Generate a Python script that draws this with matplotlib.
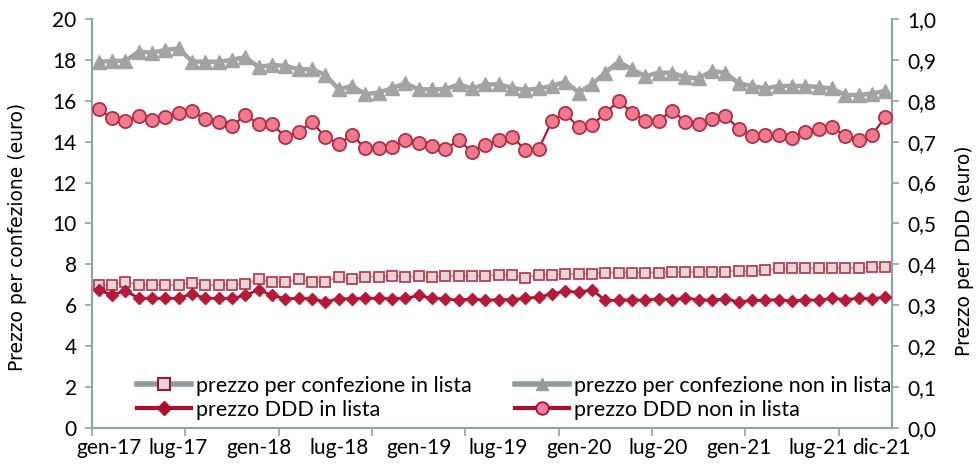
import matplotlib
matplotlib.use("Agg")
import matplotlib.pyplot as plt
from matplotlib.lines import Line2D
from matplotlib.ticker import FixedLocator
import numpy as np

# ---- data (60 months gen-17 .. dic-21) ----
conf_non_lista = [17.9, 17.95, 17.95, 18.4, 18.35, 18.48, 18.56, 17.91, 17.91, 17.9,
                  18.0, 18.13, 17.64, 17.75, 17.7, 17.54, 17.54, 17.26, 16.56, 16.72,
                  16.32, 16.4, 16.61, 16.85, 16.56, 16.56, 16.56, 16.8, 16.6, 16.8,
                  16.8, 16.64, 16.52, 16.6, 16.72, 16.93, 16.4, 16.8, 17.37, 17.91,
                  17.54, 17.2, 17.37, 17.37, 17.15, 17.1, 17.45, 17.37, 16.85, 16.72,
                  16.6, 16.72, 16.72, 16.72, 16.67, 16.6, 16.28, 16.28, 16.35, 16.48]
conf_lista = [7.0, 7.0, 7.15, 7.0, 7.0, 7.0, 7.0, 7.1, 7.0, 7.0,
              7.0, 7.05, 7.27, 7.15, 7.15, 7.27, 7.15, 7.15, 7.4, 7.27,
              7.4, 7.4, 7.42, 7.4, 7.42, 7.4, 7.42, 7.44, 7.44, 7.45,
              7.47, 7.48, 7.35, 7.5, 7.5, 7.52, 7.55, 7.55, 7.6, 7.6,
              7.6, 7.6, 7.6, 7.62, 7.62, 7.65, 7.65, 7.65, 7.68, 7.68,
              7.7, 7.8, 7.8, 7.8, 7.8, 7.8, 7.82, 7.82, 7.85, 7.85]
ddd_non_lista = [0.779, 0.757, 0.750, 0.762, 0.752, 0.760, 0.771, 0.775, 0.755, 0.749,
                 0.738, 0.765, 0.743, 0.743, 0.712, 0.724, 0.747, 0.712, 0.694, 0.716,
                 0.684, 0.684, 0.688, 0.703, 0.696, 0.689, 0.681, 0.704, 0.675, 0.692,
                 0.704, 0.712, 0.680, 0.681, 0.751, 0.769, 0.735, 0.741, 0.769, 0.800,
                 0.771, 0.751, 0.751, 0.776, 0.749, 0.743, 0.755, 0.763, 0.732, 0.714,
                 0.716, 0.716, 0.710, 0.724, 0.730, 0.736, 0.714, 0.704, 0.716, 0.760]
ddd_lista = [0.338, 0.325, 0.336, 0.317, 0.317, 0.317, 0.317, 0.328, 0.317, 0.317,
             0.317, 0.324, 0.338, 0.324, 0.316, 0.317, 0.316, 0.308, 0.316, 0.316,
             0.317, 0.317, 0.316, 0.317, 0.324, 0.317, 0.316, 0.312, 0.316, 0.312,
             0.314, 0.314, 0.317, 0.320, 0.328, 0.334, 0.332, 0.338, 0.312, 0.312,
             0.314, 0.312, 0.316, 0.314, 0.317, 0.314, 0.312, 0.316, 0.308, 0.312,
             0.312, 0.314, 0.310, 0.314, 0.312, 0.317, 0.314, 0.317, 0.316, 0.320]

x_labels = ["gen-17", "lug-17", "gen-18", "lug-18", "gen-19", "lug-19",
            "gen-20", "lug-20", "gen-21", "lug-21", "dic-21"]
x_label_months = [0.8, 6, 12, 18, 24, 30, 36, 42, 48, 54, 58.7]

left_ticks = [0, 2, 4, 6, 8, 10, 12, 14, 16, 18, 20]
right_ticks = [0.0, 0.1, 0.2, 0.3, 0.4, 0.5, 0.6, 0.7, 0.8, 0.9, 1.0]

legend_labels = ["prezzo per confezione in lista", "prezzo DDD in lista",
                 "prezzo per confezione non in lista", "prezzo DDD non in lista"]

# ---- style ----
NARROW = ["Liberation Sans Narrow", "Lato", "DejaVu Sans"]
SPINE = "#8fa6a6"
GREY = "#a3a3a3"
DARKRED = "#a8102e"
PINK = "#f07a8e"
SQ_EDGE = "#b84050"
SQ_FACE = "#e2d6d6"

fig = plt.figure(figsize=(9.79, 4.66), dpi=100)
ax = fig.add_axes([0.094, 0.0815, 0.817, 0.878])
ax2 = ax.twinx()

months = np.arange(len(conf_lista))

ax.plot(months, conf_non_lista, color=GREY, lw=3.2, marker="^", ms=10.5,
        mfc=GREY, mec=GREY, zorder=3)
ax.plot(months, conf_lista, color="#e39aa4", lw=1.5, marker="s", ms=7.5,
        mfc=SQ_FACE, mec=SQ_EDGE, mew=1.3, zorder=3)
ax2.plot(months, ddd_non_lista, color=DARKRED, lw=1.5, marker="o", ms=9.5,
         mfc=PINK, mec="#b03048", mew=1.3, zorder=3)
ax2.plot(months, ddd_lista, color=DARKRED, lw=2.0, marker="D", ms=6.5,
         mfc="#b51a38", mec="#b51a38", zorder=3)

ax.set_xlim(-0.5, 59.5)
ax.set_ylim(0, 20)
ax2.set_ylim(0, 1.0)

ax.set_yticks(left_ticks)
ax.set_yticklabels([str(t) for t in left_ticks], fontsize=15, family=NARROW)
ax2.set_yticks(right_ticks)
ax2.set_yticklabels([f"{t:.1f}".replace(".", ",") for t in right_ticks],
                    fontsize=15, family=NARROW)

ax.xaxis.set_major_locator(FixedLocator(x_label_months))
ax.set_xticklabels(x_labels, fontsize=15, family=NARROW)
ax.xaxis.set_minor_locator(FixedLocator(list(np.arange(-0.5, 60, 7))))
ax.tick_params(axis="x", which="major", length=0, pad=7)
ax.tick_params(axis="x", which="minor", length=6, color=SPINE, width=1.2)
ax.tick_params(axis="y", length=5, color=SPINE, width=1.2, pad=6)
ax2.tick_params(axis="y", length=5, color=SPINE, width=1.2, pad=6)

for a in (ax, ax2):
    a.spines["top"].set_visible(False)
    for s in ("left", "right", "bottom"):
        a.spines[s].set_color(SPINE)
        a.spines[s].set_linewidth(1.5)

ax.set_ylabel("Prezzo per confezione (euro)", fontsize=13.5, ha="center", va="center")
ax2.set_ylabel("Prezzo per DDD (euro)", fontsize=13.5, ha="center", va="center")
ax.yaxis.set_label_coords(-0.093, 0.467)
ax2.yaxis.set_label_coords(1.091, 0.433)

handles = [
    Line2D([], [], color="#8e9d9d", lw=4, marker="s", ms=8, mfc=SQ_FACE, mec="#a01830", mew=1.5),
    Line2D([], [], color=DARKRED, lw=3, marker="D", ms=7, mfc=DARKRED, mec=DARKRED),
    Line2D([], [], color="#8e9d9d", lw=4, marker="^", ms=9, mfc="#8e9d9d", mec="#8e9d9d"),
    Line2D([], [], color=DARKRED, lw=3, marker="o", ms=9, mfc="#f07aa8", mec=DARKRED, mew=1.3),
]
leg = ax.legend(handles, legend_labels, ncol=2, loc="lower left",
                bbox_to_anchor=(0.056, 0.02), frameon=False, borderpad=0,
                borderaxespad=0, handlelength=2.5,
                handletextpad=0.25, columnspacing=2.0, labelspacing=0.2,
                prop={"family": NARROW, "size": 15.5})

fig.savefig("out.png", dpi=100)
